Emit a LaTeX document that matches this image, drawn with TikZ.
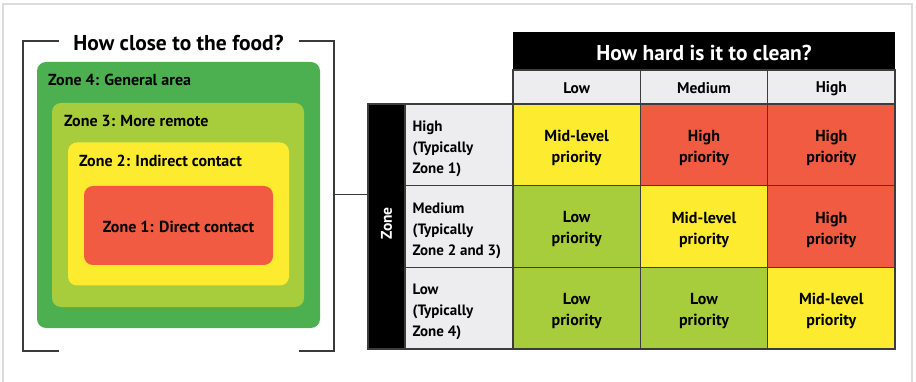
\documentclass[tikz,border=0pt]{standalone}
\usepackage{fontspec}
\setmainfont{PT Sans}
\begin{document}
\begin{tikzpicture}[x=1pt,y=-1pt]
\definecolor{zgreen}{HTML}{4CB050}
\definecolor{zlime}{HTML}{A8CD3C}
\definecolor{zyellow}{HTML}{FDEB30}
\definecolor{zred}{HTML}{F15B42}
\definecolor{cellgrey}{HTML}{EDEDF0}
\definecolor{gridline}{HTML}{3C3C3C}
\definecolor{framegrey}{HTML}{DCDCDC}
\definecolor{bracketgrey}{HTML}{3A3A3A}
\tikzset{
  zonebox/.style={rounded corners=9pt, inner sep=0pt, draw=none},
  zonelabel/.style={anchor=west, inner sep=0pt, font=\bfseries\fontsize{16}{18}\selectfont},
  cell/.style={draw=gridline, line width=1.2pt, minimum width=127.33pt, minimum height=81.67pt,
    inner sep=0pt},
  celltext/.style={inner sep=0pt, align=center, font=\bfseries\fontsize{16}{21}\selectfont},
  colhead/.style={draw=gridline, line width=1.2pt, fill=cellgrey, minimum width=127.33pt,
    minimum height=34pt, inner sep=0pt, font=\bfseries\fontsize{15.5}{18}\selectfont},
  rowhead/.style={draw=gridline, line width=1.2pt, fill=cellgrey, minimum width=108pt,
    minimum height=81.67pt, inner sep=0pt},
  rowtext/.style={anchor=west, inner sep=0pt, align=left,
    font=\bfseries\fontsize{15}{21}\selectfont},
  bracket/.style={draw=bracketgrey, line width=1.2pt},
}
\useasboundingbox (0,0) rectangle (916,382);
\fill[white] (0,0) rectangle (916,382);
% outer frame
\draw[framegrey, line width=1.5pt] (3,382) -- (3,4) -- (912,4) -- (912,382);

% ---- nested zones ----
\node[zonebox, fill=zgreen, minimum width=283pt, minimum height=266pt] (z4) at (178.5,195) {};
\node[zonebox, fill=zlime, minimum width=252pt, minimum height=204pt] (z3) at (178,205) {};
\node[zonebox, fill=zyellow, minimum width=221pt, minimum height=143pt] (z2) at (178.5,214) {};
\node[zonebox, fill=zred, minimum width=189pt, minimum height=79pt] (z1) at (178.5,225.5) {};
\node[zonelabel] (l4) at (48,80) {Zone 4: General area};
\node[zonelabel] (l3) at (64,121.5) {Zone 3: More remote};
\node[zonelabel] (l2) at (79,160.5) {Zone 2: Indirect contact};
\node[zonelabel, anchor=center] (l1) at ([yshift=-1pt]z1.center) {Zone 1: Direct contact};

% bracket with title
\node[font=\bfseries\fontsize{21.5}{24}\selectfont, inner sep=0pt] (t1) at (178.5,43) {How close to the food?};
\draw[bracket] (59,41) -- (23,41) -- (23,351) -- (59,351);
\draw[bracket] (299,41) -- (334,41) -- (334,351) -- (299,351);
\coordinate (bk) at (334,195);

% ---- priority table ----
\node[fill=black, minimum width=382pt, minimum height=38pt, inner sep=0pt] (t2) at (704,51) {};
\node[text=white, inner sep=0pt, font=\bfseries\fontsize{21.5}{24}\selectfont] (t2t)
  at ([yshift=-1.5pt]t2.center) {How hard is it to clean?};
\node[colhead] (h1) at (576.67,87) {};
\node[colhead] (h2) at (704,87) {};
\node[colhead] (h3) at (831.33,87) {};
\node[celltext, font=\bfseries\fontsize{15.5}{18}\selectfont] (h1t) at ([yshift=-1.5pt]h1.center) {Low};
\node[celltext, font=\bfseries\fontsize{15.5}{18}\selectfont] (h2t) at ([yshift=-1.5pt]h2.center) {Medium};
\node[celltext, font=\bfseries\fontsize{15.5}{18}\selectfont] (h3t) at ([yshift=-1.5pt]h3.center) {High};

\node[fill=black, draw=gridline, line width=1.2pt, minimum width=37pt, minimum height=245pt, inner sep=0pt] (zone) at (386.5,226.5) {};
\node[rotate=90, text=white, font=\bfseries\fontsize{15.5}{18}\selectfont] (zt) at ([yshift=3pt]zone.center) {Zone};

\node[rowhead] (r1) at (459,144.83) {};
\node[rowhead] (r2) at (459,226.5) {};
\node[rowhead] (r3) at (459,308.17) {};
\node[rowtext] (r1t) at ([xshift=8pt,yshift=-4pt]r1.west) {High\\(Typically\\Zone 1)};
\node[rowtext] (r2t) at ([xshift=8pt,yshift=-4pt]r2.west) {Medium\\(Typically\\Zone 2 and 3)};
\node[rowtext] (r3t) at ([xshift=8pt,yshift=-4pt]r3.west) {Low\\(Typically\\Zone 4)};

\node[cell, fill=zyellow] (c11) at (576.67,144.83) {};
\node[cell, fill=zred]    (c12) at (704,144.83) {};
\node[cell, fill=zred]    (c13) at (831.33,144.83) {};
\node[cell, fill=zlime]   (c21) at (576.67,226.5) {};
\node[cell, fill=zyellow] (c22) at (704,226.5) {};
\node[cell, fill=zred]    (c23) at (831.33,226.5) {};
\node[cell, fill=zlime]   (c31) at (576.67,308.17) {};
\node[cell, fill=zlime]   (c32) at (704,308.17) {};
\node[cell, fill=zyellow] (c33) at (831.33,308.17) {};
\node[celltext] (c11t) at ([yshift=-3pt]c11.center) {Mid-level\\priority};
\node[celltext] (c12t) at ([yshift=-3pt]c12.center) {High\\priority};
\node[celltext] (c13t) at ([yshift=-3pt]c13.center) {High\\priority};
\node[celltext] (c21t) at ([yshift=-3pt]c21.center) {Low\\priority};
\node[celltext] (c22t) at ([yshift=-3pt]c22.center) {Mid-level\\priority};
\node[celltext] (c23t) at ([yshift=-3pt]c23.center) {High\\priority};
\node[celltext] (c31t) at ([yshift=-3pt]c31.center) {Low\\priority};
\node[celltext] (c32t) at ([yshift=-3pt]c32.center) {Low\\priority};
\node[celltext] (c33t) at ([yshift=-3pt]c33.center) {Mid-level\\priority};

% link from the zones panel to the table
\draw[bracket, line width=1pt] (bk) -- (zone.west |- bk);
\end{tikzpicture}
\end{document}
